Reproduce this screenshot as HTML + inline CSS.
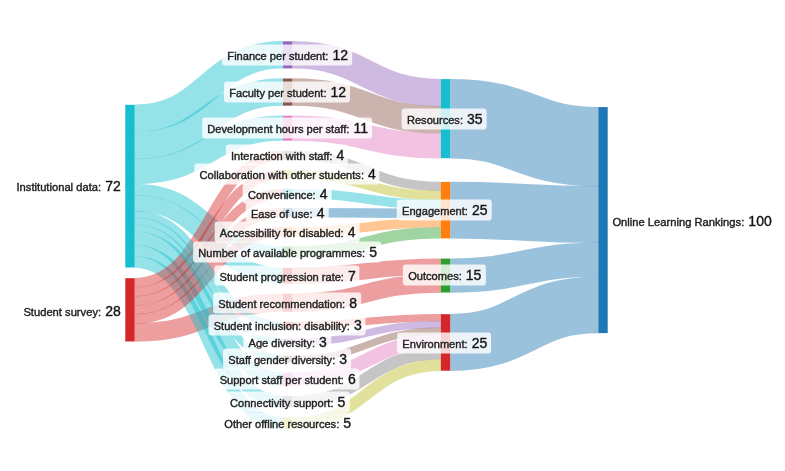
<!DOCTYPE html>
<html><head><meta charset="utf-8"><title>Online Learning Rankings methodology</title>
<style>
html,body{margin:0;padding:0;background:#fff}
#chart{filter:blur(0.45px);position:relative;width:785px;height:471px;overflow:hidden;background:#fff;font-family:"Liberation Sans",Arial,sans-serif}
#chart svg{position:absolute;left:0;top:0}
.lk{fill:none;stroke-opacity:0.45}
.lb{position:absolute;white-space:nowrap;font-size:11.08px;line-height:20.6px;height:20.8px;color:#222;padding:0 4px 0 5px;-webkit-text-stroke:0.4px #222;border-radius:3px;background:rgba(255,255,255,0.8)}
.lb b{font-weight:normal;font-size:14px;color:#111;margin-left:1px}
.c{transform:translate(-50%,-50%)}
.r{transform:translate(0,-50%);background:none;font-size:11.2px}
.l{transform:translate(-100%,-50%);background:none;font-size:11.2px}
</style></head><body>
<div id="chart">
<svg width="785" height="471" viewBox="0 0 785 471">
<g>
<path class="lk" d="M450.2,118.65C524.2,118.65 524.2,146.65 598.3,146.65" stroke="#1f77b4" stroke-width="79.50"/>
<path class="lk" d="M450.2,210.15C524.2,210.15 524.2,214.45 598.3,214.45" stroke="#1f77b4" stroke-width="56.90"/>
<path class="lk" d="M450.2,342.45C524.2,342.45 524.2,304.85 598.3,304.85" stroke="#1f77b4" stroke-width="56.90"/>
<path class="lk" d="M450.2,275.55C524.2,275.55 524.2,259.65 598.3,259.65" stroke="#1f77b4" stroke-width="34.30"/>
<path class="lk" d="M134.7,118.36C208.8,118.36 208.8,54.86 283.0,54.86" stroke="#17becf" stroke-width="27.52"/>
<path class="lk" d="M134.7,145.48C208.8,145.48 208.8,92.08 283.0,92.08" stroke="#17becf" stroke-width="27.52"/>
<path class="lk" d="M292.4,54.86C366.6,54.86 366.6,92.66 440.8,92.66" stroke="#9467bd" stroke-width="27.52"/>
<path class="lk" d="M292.4,92.08C366.6,92.08 366.6,119.78 440.8,119.78" stroke="#8c564b" stroke-width="27.52"/>
<path class="lk" d="M134.7,171.47C208.8,171.47 208.8,128.17 283.0,128.17" stroke="#17becf" stroke-width="25.26"/>
<path class="lk" d="M292.4,128.17C366.6,128.17 366.6,145.77 440.8,145.77" stroke="#e377c2" stroke-width="25.26"/>
<path class="lk" d="M134.7,332.44C208.8,332.44 208.8,302.76 283.0,302.76" stroke="#d62728" stroke-width="18.48"/>
<path class="lk" d="M292.4,302.76C366.6,302.76 366.6,283.46 440.8,283.46" stroke="#d62728" stroke-width="18.48"/>
<path class="lk" d="M134.7,203.11C208.8,203.11 208.8,275.71 283.0,275.71" stroke="#17becf" stroke-width="16.22"/>
<path class="lk" d="M292.4,275.71C366.6,275.71 366.6,266.51 440.8,266.51" stroke="#d62728" stroke-width="16.22"/>
<path class="lk" d="M134.7,238.14C208.8,238.14 208.8,379.32 283.0,379.32" stroke="#17becf" stroke-width="13.96"/>
<path class="lk" d="M292.4,379.32C366.6,379.32 366.6,341.32 440.8,341.32" stroke="#e377c2" stroke-width="13.96"/>
<path class="lk" d="M134.7,189.55C208.8,189.55 208.8,252.05 283.0,252.05" stroke="#17becf" stroke-width="11.70"/>
<path class="lk" d="M134.7,250.57C208.8,250.57 208.8,401.85 283.0,401.85" stroke="#17becf" stroke-width="11.70"/>
<path class="lk" d="M134.7,261.87C208.8,261.87 208.8,423.25 283.0,423.25" stroke="#17becf" stroke-width="11.70"/>
<path class="lk" d="M292.4,252.05C366.6,252.05 366.6,232.75 440.8,232.75" stroke="#2ca02c" stroke-width="11.70"/>
<path class="lk" d="M292.4,401.85C366.6,401.85 366.6,353.75 440.8,353.75" stroke="#7f7f7f" stroke-width="11.70"/>
<path class="lk" d="M292.4,423.25C366.6,423.25 366.6,365.05 440.8,365.05" stroke="#bcbd22" stroke-width="11.70"/>
<path class="lk" d="M134.7,282.72C208.8,282.72 208.8,155.22 283.0,155.22" stroke="#d62728" stroke-width="9.44"/>
<path class="lk" d="M134.7,291.76C208.8,291.76 208.8,174.36 283.0,174.36" stroke="#d62728" stroke-width="9.44"/>
<path class="lk" d="M134.7,300.80C208.8,300.80 208.8,193.50 283.0,193.50" stroke="#d62728" stroke-width="9.44"/>
<path class="lk" d="M134.7,309.84C208.8,309.84 208.8,212.64 283.0,212.64" stroke="#d62728" stroke-width="9.44"/>
<path class="lk" d="M134.7,318.88C208.8,318.88 208.8,231.78 283.0,231.78" stroke="#d62728" stroke-width="9.44"/>
<path class="lk" d="M292.4,155.22C366.6,155.22 366.6,186.42 440.8,186.42" stroke="#7f7f7f" stroke-width="9.44"/>
<path class="lk" d="M292.4,174.36C366.6,174.36 366.6,195.46 440.8,195.46" stroke="#bcbd22" stroke-width="9.44"/>
<path class="lk" d="M292.4,193.50C366.6,193.50 366.6,204.50 440.8,204.50" stroke="#17becf" stroke-width="9.44"/>
<path class="lk" d="M292.4,212.64C366.6,212.64 366.6,213.54 440.8,213.54" stroke="#1f77b4" stroke-width="9.44"/>
<path class="lk" d="M292.4,231.78C366.6,231.78 366.6,222.58 440.8,222.58" stroke="#ff7f0e" stroke-width="9.44"/>
<path class="lk" d="M134.7,214.41C208.8,214.41 208.8,325.29 283.0,325.29" stroke="#17becf" stroke-width="7.18"/>
<path class="lk" d="M134.7,221.19C208.8,221.19 208.8,342.17 283.0,342.17" stroke="#17becf" stroke-width="7.18"/>
<path class="lk" d="M134.7,227.97C208.8,227.97 208.8,359.05 283.0,359.05" stroke="#17becf" stroke-width="7.18"/>
<path class="lk" d="M292.4,325.29C366.6,325.29 366.6,317.59 440.8,317.59" stroke="#d62728" stroke-width="7.18"/>
<path class="lk" d="M292.4,342.17C366.6,342.17 366.6,324.37 440.8,324.37" stroke="#9467bd" stroke-width="7.18"/>
<path class="lk" d="M292.4,359.05C366.6,359.05 366.6,331.15 440.8,331.15" stroke="#8c564b" stroke-width="7.18"/>
</g><g>
<rect x="125.3" y="104.80" width="9.4" height="162.72" fill="#17becf"/>
<rect x="125.3" y="278.20" width="9.4" height="63.28" fill="#d62728"/>
<rect x="283.0" y="41.30" width="9.4" height="27.12" fill="#9467bd"/>
<rect x="283.0" y="78.52" width="9.4" height="27.12" fill="#8c564b"/>
<rect x="283.0" y="115.74" width="9.4" height="24.86" fill="#e377c2"/>
<rect x="283.0" y="150.70" width="9.4" height="9.04" fill="#7f7f7f"/>
<rect x="283.0" y="169.84" width="9.4" height="9.04" fill="#bcbd22"/>
<rect x="283.0" y="188.98" width="9.4" height="9.04" fill="#17becf"/>
<rect x="283.0" y="208.12" width="9.4" height="9.04" fill="#1f77b4"/>
<rect x="283.0" y="227.26" width="9.4" height="9.04" fill="#ff7f0e"/>
<rect x="283.0" y="246.40" width="9.4" height="11.30" fill="#2ca02c"/>
<rect x="283.0" y="267.80" width="9.4" height="15.82" fill="#d62728"/>
<rect x="283.0" y="293.72" width="9.4" height="18.08" fill="#d62728"/>
<rect x="283.0" y="321.90" width="9.4" height="6.78" fill="#d62728"/>
<rect x="283.0" y="338.78" width="9.4" height="6.78" fill="#9467bd"/>
<rect x="283.0" y="355.66" width="9.4" height="6.78" fill="#8c564b"/>
<rect x="283.0" y="372.54" width="9.4" height="13.56" fill="#e377c2"/>
<rect x="283.0" y="396.20" width="9.4" height="11.30" fill="#7f7f7f"/>
<rect x="283.0" y="417.60" width="9.4" height="11.30" fill="#bcbd22"/>
<rect x="440.8" y="79.10" width="9.4" height="79.10" fill="#17becf"/>
<rect x="440.8" y="181.90" width="9.4" height="56.50" fill="#ff7f0e"/>
<rect x="440.8" y="258.60" width="9.4" height="33.90" fill="#2ca02c"/>
<rect x="440.8" y="314.20" width="9.4" height="56.50" fill="#d62728"/>
<rect x="598.3" y="107.10" width="9.4" height="226.00" fill="#1f77b4"/>
</g></svg>
<div class="lb l" style="left:124.8px;top:186.4px">Institutional data: <b>72</b></div>
<div class="lb l" style="left:124.8px;top:310.9px">Student survey: <b>28</b></div>
<div class="lb c" style="left:287.2px;top:54.9px">Finance per student: <b>12</b></div>
<div class="lb c" style="left:287.2px;top:92.1px">Faculty per student: <b>12</b></div>
<div class="lb c" style="left:287.2px;top:128.2px">Development hours per staff: <b>11</b></div>
<div class="lb c" style="left:287.2px;top:155.2px">Interaction with staff: <b>4</b></div>
<div class="lb c" style="left:287.2px;top:174.4px">Collaboration with other students: <b>4</b></div>
<div class="lb c" style="left:287.2px;top:193.5px">Convenience: <b>4</b></div>
<div class="lb c" style="left:287.2px;top:212.6px">Ease of use: <b>4</b></div>
<div class="lb c" style="left:287.2px;top:231.8px">Accessibility for disabled: <b>4</b></div>
<div class="lb c" style="left:287.2px;top:252.0px">Number of available programmes: <b>5</b></div>
<div class="lb c" style="left:287.2px;top:275.7px">Student progression rate: <b>7</b></div>
<div class="lb c" style="left:287.2px;top:302.8px">Student recommendation: <b>8</b></div>
<div class="lb c" style="left:287.2px;top:325.3px">Student inclusion: disability: <b>3</b></div>
<div class="lb c" style="left:287.2px;top:342.2px">Age diversity: <b>3</b></div>
<div class="lb c" style="left:287.2px;top:359.0px">Staff gender diversity: <b>3</b></div>
<div class="lb c" style="left:287.2px;top:379.3px">Support staff per student: <b>6</b></div>
<div class="lb c" style="left:287.2px;top:401.8px">Connectivity support: <b>5</b></div>
<div class="lb c" style="left:287.2px;top:423.2px">Other offline resources: <b>5</b></div>
<div class="lb c" style="left:444.3px;top:118.9px">Resources: <b>35</b></div>
<div class="lb c" style="left:444.3px;top:210.2px">Engagement: <b>25</b></div>
<div class="lb c" style="left:444.3px;top:275.4px">Outcomes: <b>15</b></div>
<div class="lb c" style="left:444.3px;top:343.1px">Environment: <b>25</b></div>
<div class="lb r" style="left:607.4px;top:221.4px">Online Learning Rankings: <b>100</b></div>
</div></body></html>
